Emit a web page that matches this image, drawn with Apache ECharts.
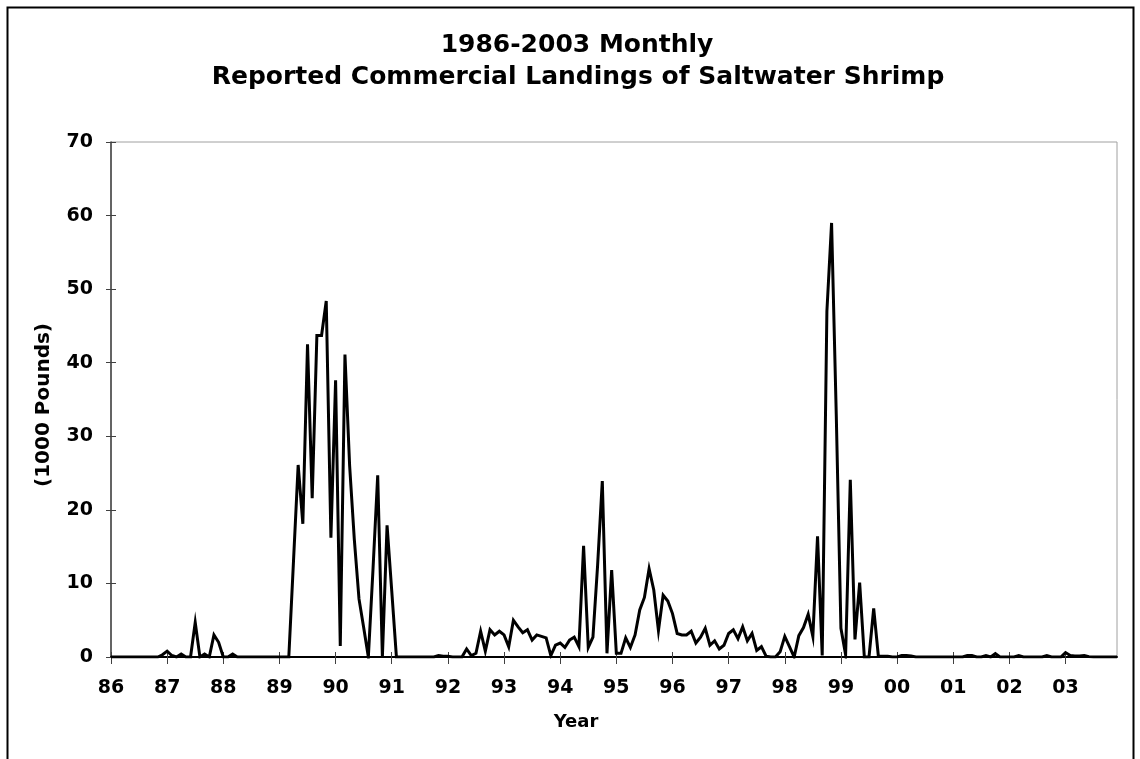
<!DOCTYPE html>
<html>
<head>
<meta charset="utf-8">
<script src="https://cdn.jsdelivr.net/npm/echarts@6/dist/echarts.min.js"></script>
<style>
html,body{margin:0;padding:0;background:#fff;}
#c{width:1140px;height:759px;}
</style>
</head>
<body>
<div id="c"></div>
<script>
// Year tick labels (two-digit)
const yearLabels = ['86','87','88','89','90','91','92','93','94','95','96','97','98','99','00','01','02','03'];
const monthNames = ['Jan','Feb','Mar','Apr','May','Jun','Jul','Aug','Sep','Oct','Nov','Dec'];

// Monthly landings (1000 pounds), Jan..Dec of each year
const y1986 = [0,0,0,0,0,0,0,0,0,0,0,0.3];
const y1987 = [0.8,0.2,0,0.4,0,0,4.7,0,0.4,0,3.0,2.0];
const y1988 = [0,0,0.4,0,0,0,0,0,0,0,0,0];
const y1989 = [0,0,0,13,26.1,18.1,42.5,21.6,43.7,43.7,48.4,16.2];
const y1990 = [37.6,1.5,41.1,26,16,7.9,4,0,12,24.7,0,17.9];
const y1991 = [9,0,0,0,0,0,0,0,0,0,0.2,0.1];
const y1992 = [0.1,0,0,0,1.1,0.2,0.5,3.5,0.8,3.7,3.0,3.5];
const y1993 = [3.0,1.4,5.0,4.1,3.3,3.7,2.3,3.0,2.8,2.6,0.2,1.6];
const y1994 = [1.9,1.3,2.3,2.7,1.4,15.1,1.3,2.7,12.5,23.9,0.5,11.8];
const y1995 = [0.5,0.5,2.6,1.3,3.0,6.4,8.1,12.0,9.1,3.6,8.4,7.6];
const y1996 = [5.9,3.2,3.0,3.0,3.5,1.9,2.7,3.9,1.6,2.2,1.1,1.6];
const y1997 = [3.2,3.7,2.5,4.1,2.2,3.2,0.9,1.4,0.1,0,0,0.7];
const y1998 = [2.8,1.4,0,2.9,4.0,5.8,2.8,16.4,0.2,47,59,33];
const y1999 = [3.9,0.3,24.1,2.4,10.1,0,0,6.6,0.1,0.1,0.1,0];
const y2000 = [0,0.2,0.2,0.15,0,0,0,0,0,0,0,0];
const y2001 = [0,0,0,0.2,0.2,0,0,0.2,0,0.45,0,0];
const y2002 = [0,0,0.2,0,0,0,0,0,0.2,0,0,0];
const y2003 = [0.6,0.2,0.15,0.15,0.2,0.05,0,0,0,0,0,0];

const yearly = [y1986,y1987,y1988,y1989,y1990,y1991,y1992,y1993,y1994,y1995,y1996,y1997,y1998,y1999,y2000,y2001,y2002,y2003];

const titleLines = ['1986-2003 Monthly', 'Reported Commercial Landings of Saltwater Shrimp'];
const xTitle = 'Year';
const yTitle = '(1000 Pounds)';

const categories = [];
yearLabels.forEach(function(y){ monthNames.forEach(function(m){ categories.push(y + '-' + m); }); });
const landings = [].concat.apply([], yearly);

const FONT = '"DejaVu Sans", Verdana, sans-serif';
const chart = echarts.init(document.getElementById('c'), null, {renderer:'canvas'});

const labelStyle = {fontFamily: FONT, fontWeight: 'bold', fontSize: 19, color: '#000'};

chart.setOption({
  animation: false,
  backgroundColor: '#fff',
  graphic: [{
    type: 'rect',
    shape: {x: 7.5, y: 7.5, width: 1126, height: 800},
    style: {fill: 'none', stroke: '#000', lineWidth: 2},
    silent: true, z: 100
  }, {
    type: 'text', x: 577, y: 45, silent: true,
    style: {text: titleLines[0], font: 'bold 25px ' + FONT, fill: '#000', align: 'center', verticalAlign: 'middle'}
  }, {
    type: 'text', x: 578, y: 77, silent: true,
    style: {text: titleLines[1], font: 'bold 25px ' + FONT, fill: '#000', align: 'center', verticalAlign: 'middle'}
  }, {
    type: 'text', x: 576, y: 722, silent: true,
    style: {text: xTitle, font: 'bold 18px ' + FONT, fill: '#000', align: 'center', verticalAlign: 'middle'}
  }, {
    type: 'text', x: 44, y: 405, rotation: Math.PI / 2, silent: true,
    style: {text: yTitle, font: 'bold 20px ' + FONT, fill: '#000', align: 'center', verticalAlign: 'middle'}
  }],
  grid: {
    left: 111, right: 23, top: 142, bottom: 102,
    show: true, borderColor: '#a0a0a0', borderWidth: 1, backgroundColor: 'transparent'
  },
  xAxis: [{
    type: 'category',
    data: categories,
    boundaryGap: false,
    position: 'bottom',
    axisLine: {show: true, lineStyle: {color: '#000', width: 2}},
    axisTick: {show: true, interval: 11, length: 7, lineStyle: {color: '#404040', width: 1}},
    axisLabel: Object.assign({interval: 11, margin: 22, formatter: function(v){ return v.slice(0,2); }}, labelStyle),
    splitLine: {show: false}
  }, {
    type: 'category',
    data: categories,
    boundaryGap: false,
    position: 'bottom',
    axisLine: {show: false},
    axisTick: {show: true, inside: true, interval: 11, length: 5, lineStyle: {color: '#404040', width: 1}},
    axisLabel: {show: false},
    splitLine: {show: false}
  }],
  yAxis: [{
    type: 'value',
    min: 0, max: 70, interval: 10,
    position: 'left',
    axisLine: {show: true, lineStyle: {color: '#404040', width: 1.5}},
    axisTick: {show: true, length: 5, lineStyle: {color: '#404040', width: 1}},
    axisLabel: Object.assign({margin: 18}, labelStyle),
    splitLine: {show: false}
  }, {
    type: 'value',
    min: 0, max: 70, interval: 10,
    position: 'left',
    axisLine: {show: false},
    axisTick: {show: true, inside: true, length: 5, lineStyle: {color: '#404040', width: 1}},
    axisLabel: {show: false},
    splitLine: {show: false}
  }],
  series: [{
    type: 'line',
    data: landings,
    xAxisIndex: 0,
    yAxisIndex: 0,
    showSymbol: false,
    symbol: 'none',
    lineStyle: {color: '#000', width: 3, join: 'miter'},
    z: 3
  }]
});
</script>
</body>
</html>
